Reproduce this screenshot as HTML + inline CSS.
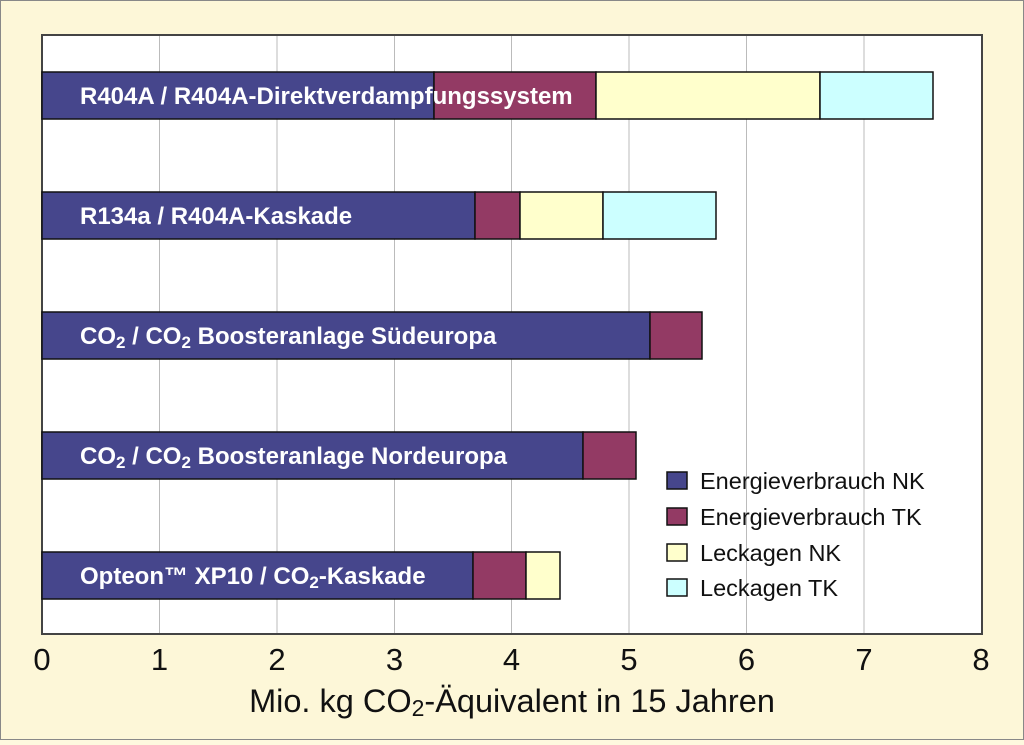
<!DOCTYPE html>
<html><head><style>
body{margin:0;width:1024px;height:740px;overflow:hidden;background:#fef9df;font-family:"Liberation Sans",sans-serif}
</style></head><body>
<svg width="1024" height="740" xmlns="http://www.w3.org/2000/svg" font-family="Liberation Sans, sans-serif">
<rect x="0.5" y="0.5" width="1023" height="739" fill="#fdf7d8" stroke="#888"/>
<rect x="42" y="35" width="940" height="599" fill="#fff" stroke="#444" stroke-width="2"/>
<g stroke="#bbb" stroke-width="1">
<line x1="159.5" y1="36" x2="159.5" y2="633"/><line x1="277" y1="36" x2="277" y2="633"/>
<line x1="394.5" y1="36" x2="394.5" y2="633"/><line x1="511.5" y1="36" x2="511.5" y2="633"/>
<line x1="629" y1="36" x2="629" y2="633"/><line x1="746.5" y1="36" x2="746.5" y2="633"/>
<line x1="864" y1="36" x2="864" y2="633"/>
</g>
<g stroke="#111" stroke-width="1.5">
<rect x="42" y="72" width="392" height="47" fill="#46468c"/><rect x="434" y="72" width="162" height="47" fill="#933a64"/><rect x="596" y="72" width="224" height="47" fill="#ffffcc"/><rect x="820" y="72" width="113" height="47" fill="#ccffff"/>
<rect x="42" y="192" width="433" height="47" fill="#46468c"/><rect x="475" y="192" width="45" height="47" fill="#933a64"/><rect x="520" y="192" width="83" height="47" fill="#ffffcc"/><rect x="603" y="192" width="113" height="47" fill="#ccffff"/>
<rect x="42" y="312" width="608" height="47" fill="#46468c"/><rect x="650" y="312" width="52" height="47" fill="#933a64"/>
<rect x="42" y="432" width="541" height="47" fill="#46468c"/><rect x="583" y="432" width="53" height="47" fill="#933a64"/>
<rect x="42" y="552" width="431" height="47" fill="#46468c"/><rect x="473" y="552" width="53" height="47" fill="#933a64"/><rect x="526" y="552" width="34" height="47" fill="#ffffcc"/>
</g>
<g fill="#fff" font-weight="bold" font-size="24">
<text x="80" y="104">R404A / R404A-Direktverdampfungssystem</text>
<text x="80" y="224">R134a / R404A-Kaskade</text>
<text x="80" y="344">CO<tspan font-size="17" dy="4">2</tspan><tspan dy="-4"> / CO</tspan><tspan font-size="17" dy="4">2</tspan><tspan dy="-4"> Boosteranlage Südeuropa</tspan></text>
<text x="80" y="464">CO<tspan font-size="17" dy="4">2</tspan><tspan dy="-4"> / CO</tspan><tspan font-size="17" dy="4">2</tspan><tspan dy="-4"> Boosteranlage Nordeuropa</tspan></text>
<text x="80" y="584">Opteon™ XP10 / CO<tspan font-size="17" dy="4">2</tspan><tspan dy="-4">-Kaskade</tspan></text>
</g>
<g stroke="#111" stroke-width="1.5">
<rect x="667" y="472" width="20" height="17" fill="#46468c"/>
<rect x="667" y="508" width="20" height="17" fill="#933a64"/>
<rect x="667" y="544" width="20" height="17" fill="#ffffcc"/>
<rect x="667" y="579" width="20" height="17" fill="#ccffff"/>
</g>
<g font-size="23.5" fill="#111">
<text x="700" y="489">Energieverbrauch NK</text>
<text x="700" y="525">Energieverbrauch TK</text>
<text x="700" y="561">Leckagen NK</text>
<text x="700" y="596">Leckagen TK</text>
</g>
<g font-size="31" fill="#111" text-anchor="middle">
<text x="42" y="670">0</text><text x="159.5" y="670">1</text><text x="277" y="670">2</text><text x="394.5" y="670">3</text><text x="511.5" y="670">4</text><text x="629" y="670">5</text><text x="746.5" y="670">6</text><text x="864" y="670">7</text><text x="981" y="670">8</text>
</g>
<text x="512" y="712" font-size="32.5" fill="#111" text-anchor="middle">Mio. kg CO<tspan font-size="23" dy="4">2</tspan><tspan dy="-4">-Äquivalent in 15 Jahren</tspan></text>
</svg>
</body></html>
